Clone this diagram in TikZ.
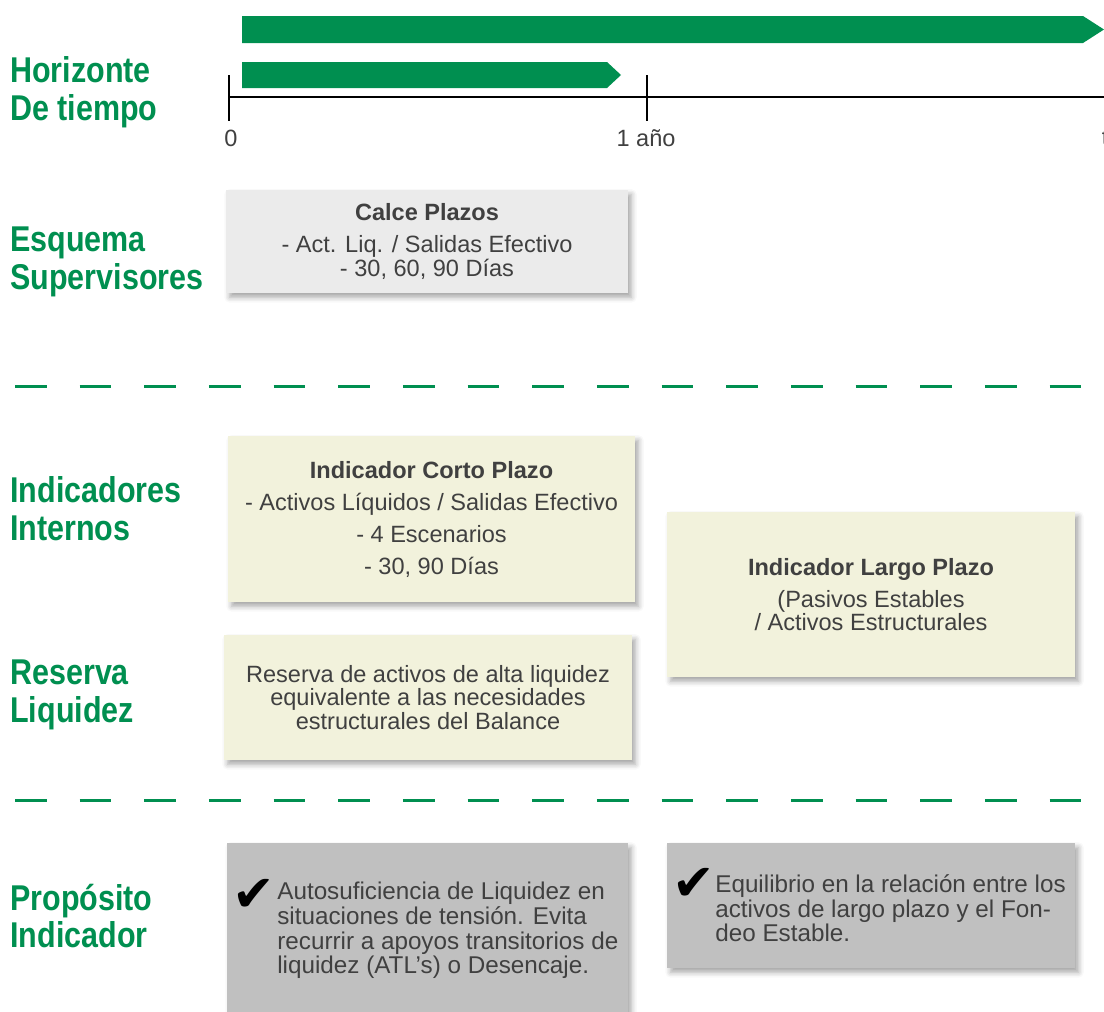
\documentclass[tikz,border=0pt]{standalone}
\usepackage{fontspec}
\setmainfont{Liberation Sans}
\newfontfamily\condfont[FakeStretch=0.85]{Liberation Sans}
\newfontfamily\symfont{DejaVu Sans}
\usepackage{tikz}
\usetikzlibrary{positioning,shadows.blur}
\definecolor{hgreen}{RGB}{0,143,80}
\definecolor{txtgray}{RGB}{64,64,64}
\definecolor{boxgray}{RGB}{235,235,235}
\definecolor{boxcream}{RGB}{242,242,220}
\definecolor{boxdark}{RGB}{192,192,192}
\tikzset{
  ttl/.style={anchor=west, align=left, inner sep=0pt, text=hgreen,
              font=\condfont\bfseries\fontsize{20.4}{21.6}\selectfont},
  sbox/.style={rectangle, inner sep=0pt, align=center, text=txtgray,
               font=\fontsize{13.4}{13.2}\selectfont,
               blur shadow={shadow xshift=2pt, shadow yshift=-2.5pt, shadow blur radius=3pt, shadow opacity=35}},
  ptxt/.style={anchor=west, align=left, inner sep=0pt, text=txtgray, font=\fontsize{13.8}{14}\selectfont},
  chk/.style={inner sep=0pt, font=\symfont\fontsize{29}{29}\selectfont},
  tbar/.style={fill=hgreen},
  axln/.style={line width=1.4pt},
  axlbl/.style={inner sep=0pt, text=txtgray, font=\fontsize{13.4}{14}\selectfont},
  dashsep/.style={draw=hgreen, line width=1.7pt, dash pattern=on 18.1pt off 18.7pt},
}

\begin{document}
\begin{tikzpicture}[x=0.02cm, y=-0.02cm]
\useasboundingbox (0,0) rectangle (1104,1011);
\fill[tbar] (242,16) -- (1083,16) -- (1104,29.5) -- (1083,43) -- (242,43) -- cycle;
\fill[tbar] (242,62) -- (607,62) -- (621,75) -- (607,88) -- (242,88) -- cycle;
\coordinate (ax0) at (229,97);
\coordinate (ax1) at (647,97);
\coordinate (axt) at (1104,97);
\draw[axln] (ax0) -- (axt);
\foreach \t in {ax0,ax1} \draw[axln] ([yshift=4.4mm]\t) -- ([yshift=-4.8mm]\t);
\node[axlbl] (l0) at (231,138) {0};
\node[axlbl] (l1) at (646,138) {1 año};
\node[axlbl] (lt) at (1105,138) {t};

\node[ttl] (hor) at (10,92) {Horizonte\\De tiempo};
\node[ttl] (esq) at (10,262) {Esquema\\Supervisores};
\node[ttl] (ind) at (10,509) {Indicadores\\Internos};
\node[ttl] (res) at (10,695) {Reserva\\Liquidez};
\node[ttl] (pro) at (10,916) {Propósito\\Indicador};

\coordinate (d1a) at (15,386);
\coordinate (d1b) at (1092,386);
\coordinate (d2a) at (15,800);
\coordinate (d2b) at (1092,800);
\draw[dashsep] (d1a) -- (d1b);
\draw[dashsep] (d2a) -- (d2b);

\node[sbox, fill=boxgray, minimum width=80.4mm, minimum height=20.6mm] (calce) at (427,241.5)
  {\textbf{Calce Plazos}\\[5pt] - Act. Liq. / Salidas Efectivo\\ - 30, 60, 90 Días};
\node[sbox, fill=boxcream, minimum width=81.4mm, minimum height=33.2mm] (corto) at (431.5,519)
  {\textbf{Indicador Corto Plazo}\\[5pt] - Activos Líquidos / Salidas Efectivo\\[5pt] - 4 Escenarios\\[5pt] - 30, 90 Días};
\node[sbox, fill=boxcream, minimum width=81.6mm, minimum height=25mm] (reserva) at (428,697.5)
  {Reserva de activos de alta liquidez\\ equivalente a las necesidades\\ estructurales del Balance};
\node[sbox, fill=boxcream, minimum width=81.6mm, minimum height=33mm] (largo) at (871,594.5)
  {\textbf{Indicador Largo Plazo}\\[5pt] (Pasivos Estables\\ / Activos Estructurales};

\node[sbox, fill=boxdark, minimum width=80.2mm, minimum height=34.4mm] (prop1) at (427.5,929) {};
\node[chk] (chk1) at (254,895) {✔};
\node[ptxt] (ptxt1) at (277,930.5) {Autosuficiencia de Liquidez en\\ situaciones de tensión. Evita\\ recurrir a apoyos transitorios de\\ liquidez (ATL’s) o Desencaje.};
\node[sbox, fill=boxdark, minimum width=81.6mm, minimum height=25mm] (prop2) at (871,905.5) {};
\node[chk] (chk2) at (694,884) {✔};
\node[ptxt] (ptxt2) at (715,908.5) {Equilibrio en la relación entre los\\ activos de largo plazo y el Fon-\\ deo Estable.};
\end{tikzpicture}
\end{document}
